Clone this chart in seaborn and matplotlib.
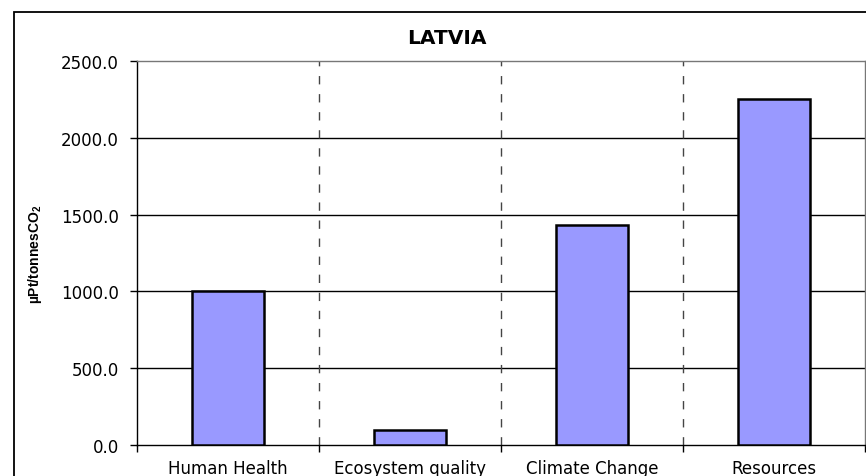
import matplotlib
matplotlib.use("Agg")
import matplotlib.pyplot as plt
import seaborn as sns
import pandas as pd
from matplotlib.patches import Rectangle
from matplotlib.ticker import FixedLocator, FormatStrFormatter

categories = ["Human Health", "Ecosystem quality", "Climate Change", "Resources"]
values = [1003, 97, 1435, 2252]
yticks = [0, 500, 1000, 1500, 2000, 2500]
title = "LATVIA"
ylabel = "µPt/tonnesCO$_2$"

sns.set_theme(style="white")
plt.rcParams["font.family"] = ["DejaVu Sans"]
plt.rcParams["text.color"] = "black"
plt.rcParams["axes.labelcolor"] = "black"
plt.rcParams["mathtext.fontset"] = "custom"
plt.rcParams["mathtext.rm"] = "Liberation Sans:bold"
plt.rcParams["mathtext.it"] = "Liberation Sans:bold"
plt.rcParams["mathtext.bf"] = "Liberation Sans:bold"

W, H = 866, 477
fig = plt.figure(figsize=(W / 100, H / 100), dpi=100)
fig.patch.set_facecolor("white")

# outer chart border (extends beyond the image at right/bottom)
fig.patches.append(Rectangle((13.5 / W, -0.1), 2, 1 - 12.5 / H + 0.1,
                             transform=fig.transFigure, fill=False,
                             edgecolor="black", linewidth=1.3, clip_on=False))

ax = fig.add_axes([137 / W, 1 - 446 / H, (865 - 137) / W, (446 - 62) / H])
df = pd.DataFrame({"cat": categories, "val": values})
sns.barplot(data=df, x="cat", y="val", color="#9999FF", width=0.4,
            edgecolor="black", linewidth=1.8, saturation=1, ax=ax, zorder=3)

ax.set_xlim(-0.5, len(categories) - 0.5)
ax.set_ylim(0, 2500)
ax.yaxis.set_major_locator(FixedLocator(yticks))
ax.yaxis.set_major_formatter(FormatStrFormatter("%.1f"))

for y in yticks[1:-1]:
    ax.axhline(y, color="black", linewidth=1.0, zorder=1)
for i in range(len(categories) - 1):
    ax.axvline(i + 0.5, color="#444444", linewidth=1.0, linestyle=(0, (6, 7)), zorder=1)

for s in ["top", "right"]:
    ax.spines[s].set_color("#777777")
    ax.spines[s].set_linewidth(1.0)
for s in ["left", "bottom"]:
    ax.spines[s].set_color("black")
    ax.spines[s].set_linewidth(1.0)

ax.set_xticks(range(len(categories)))
ax.set_xticklabels(categories, fontsize=12, color="black")
ax.tick_params(axis="x", which="major", length=0, pad=10)
ax.set_xticks([i - 0.5 for i in range(len(categories) + 1)], minor=True)
ax.tick_params(axis="x", which="minor", length=5, width=1, color="black", direction="out", bottom=True)
ax.tick_params(axis="y", length=5, width=1, color="black", direction="out", left=True,
               labelsize=12, pad=8, labelcolor="black")

ax.set_xlabel("")
ax.set_ylabel(ylabel, fontsize=10, fontweight="bold", family="Liberation Sans", color="black")
ax.yaxis.set_label_coords((44 - 137) / (865 - 137), 0.5)
fig.text(447 / W, 1 - 38.5 / H, title, fontsize=14.5, fontweight="bold", ha="center", va="center",
         color="black")

fig.savefig("out.png", dpi=100)
